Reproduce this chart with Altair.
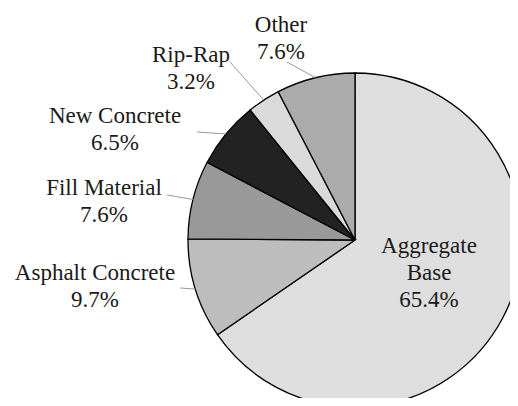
import altair as alt
import pandas as pd
import numpy as np

# ---- data ----
categories = ["Aggregate Base", "Asphalt Concrete", "Fill Material", "New Concrete", "Rip-Rap", "Other"]
values = [65.4, 9.7, 7.6, 6.5, 3.2, 7.6]
label_lines = ["Aggregate\nBase", "Asphalt Concrete", "Fill Material", "New Concrete", "Rip-Rap", "Other"]

# ---- style / layout ----
colors = ["#dedede", "#bdbdbd", "#999999", "#222222", "#dadada", "#ababab"]
CX, CY, R = 347, 232, 167           # pie centre & radius (chart pixels)
FONT = "Liberation Serif"
FS = 23
# label anchor (centre x, first baseline y) in chart pixels
label_x = [421, 87, 96, 107, 183, 273]
label_y = [245, 272, 187, 115, 54, 24]
# outer end of leader lines (None = no leader)
lead_x = [None, 172, 159, 189, 222, 279]
lead_y = [None, 280, 187, 124, 54, 54]

df = pd.DataFrame({"cat": categories, "value": values, "idx": range(len(values))})

# label texts
df_lab = pd.DataFrame({
    "text": [f"{l}\n{v:.1f}%" for l, v in zip(label_lines, values)],
    "x": label_x, "y": label_y, "cat": categories,
})

# leader lines: inner point at slice mid-angle on the rim
total = sum(values)
cum = np.cumsum([0] + values[:-1])
mid = (cum + np.array(values) / 2) / total * 2 * np.pi
rows = []
for i in range(len(values)):
    if lead_x[i] is None:
        continue
    rows.append({
        "x": lead_x[i], "y": lead_y[i],
        "x2": CX + R * np.sin(mid[i]), "y2": CY - R * np.cos(mid[i]),
    })
df_lead = pd.DataFrame(rows)

pie = alt.Chart(df).mark_arc(outerRadius=R, stroke="black", strokeWidth=1.3).encode(
    theta=alt.Theta("value:Q", stack=True),
    order=alt.Order("idx:Q"),
    color=alt.Color("cat:N", scale=alt.Scale(domain=categories, range=colors), legend=None),
    x=alt.value(CX), y=alt.value(CY),
)

leaders = alt.Chart(df_lead).mark_rule(color="#9a9a9a", strokeWidth=1).encode(
    x=alt.X("x:Q", scale=None), y=alt.Y("y:Q", scale=None),
    x2="x2:Q", y2="y2:Q",
)

labels = alt.Chart(df_lab).mark_text(
    font=FONT, fontSize=FS, lineBreak="\n", lineHeight=27,
    align="center", baseline="alphabetic", color="#1a1a1a",
).encode(
    x=alt.X("x:Q", scale=None), y=alt.Y("y:Q", scale=None), text="text:N",
)

chart = alt.layer(pie, leaders, labels).properties(
    width=502, height=390, padding=0,
    autosize=alt.AutoSizeParams(type="none"),
).configure_view(stroke=None)

chart.save("out.html", embed_options={"renderer": "svg", "actions": False})
